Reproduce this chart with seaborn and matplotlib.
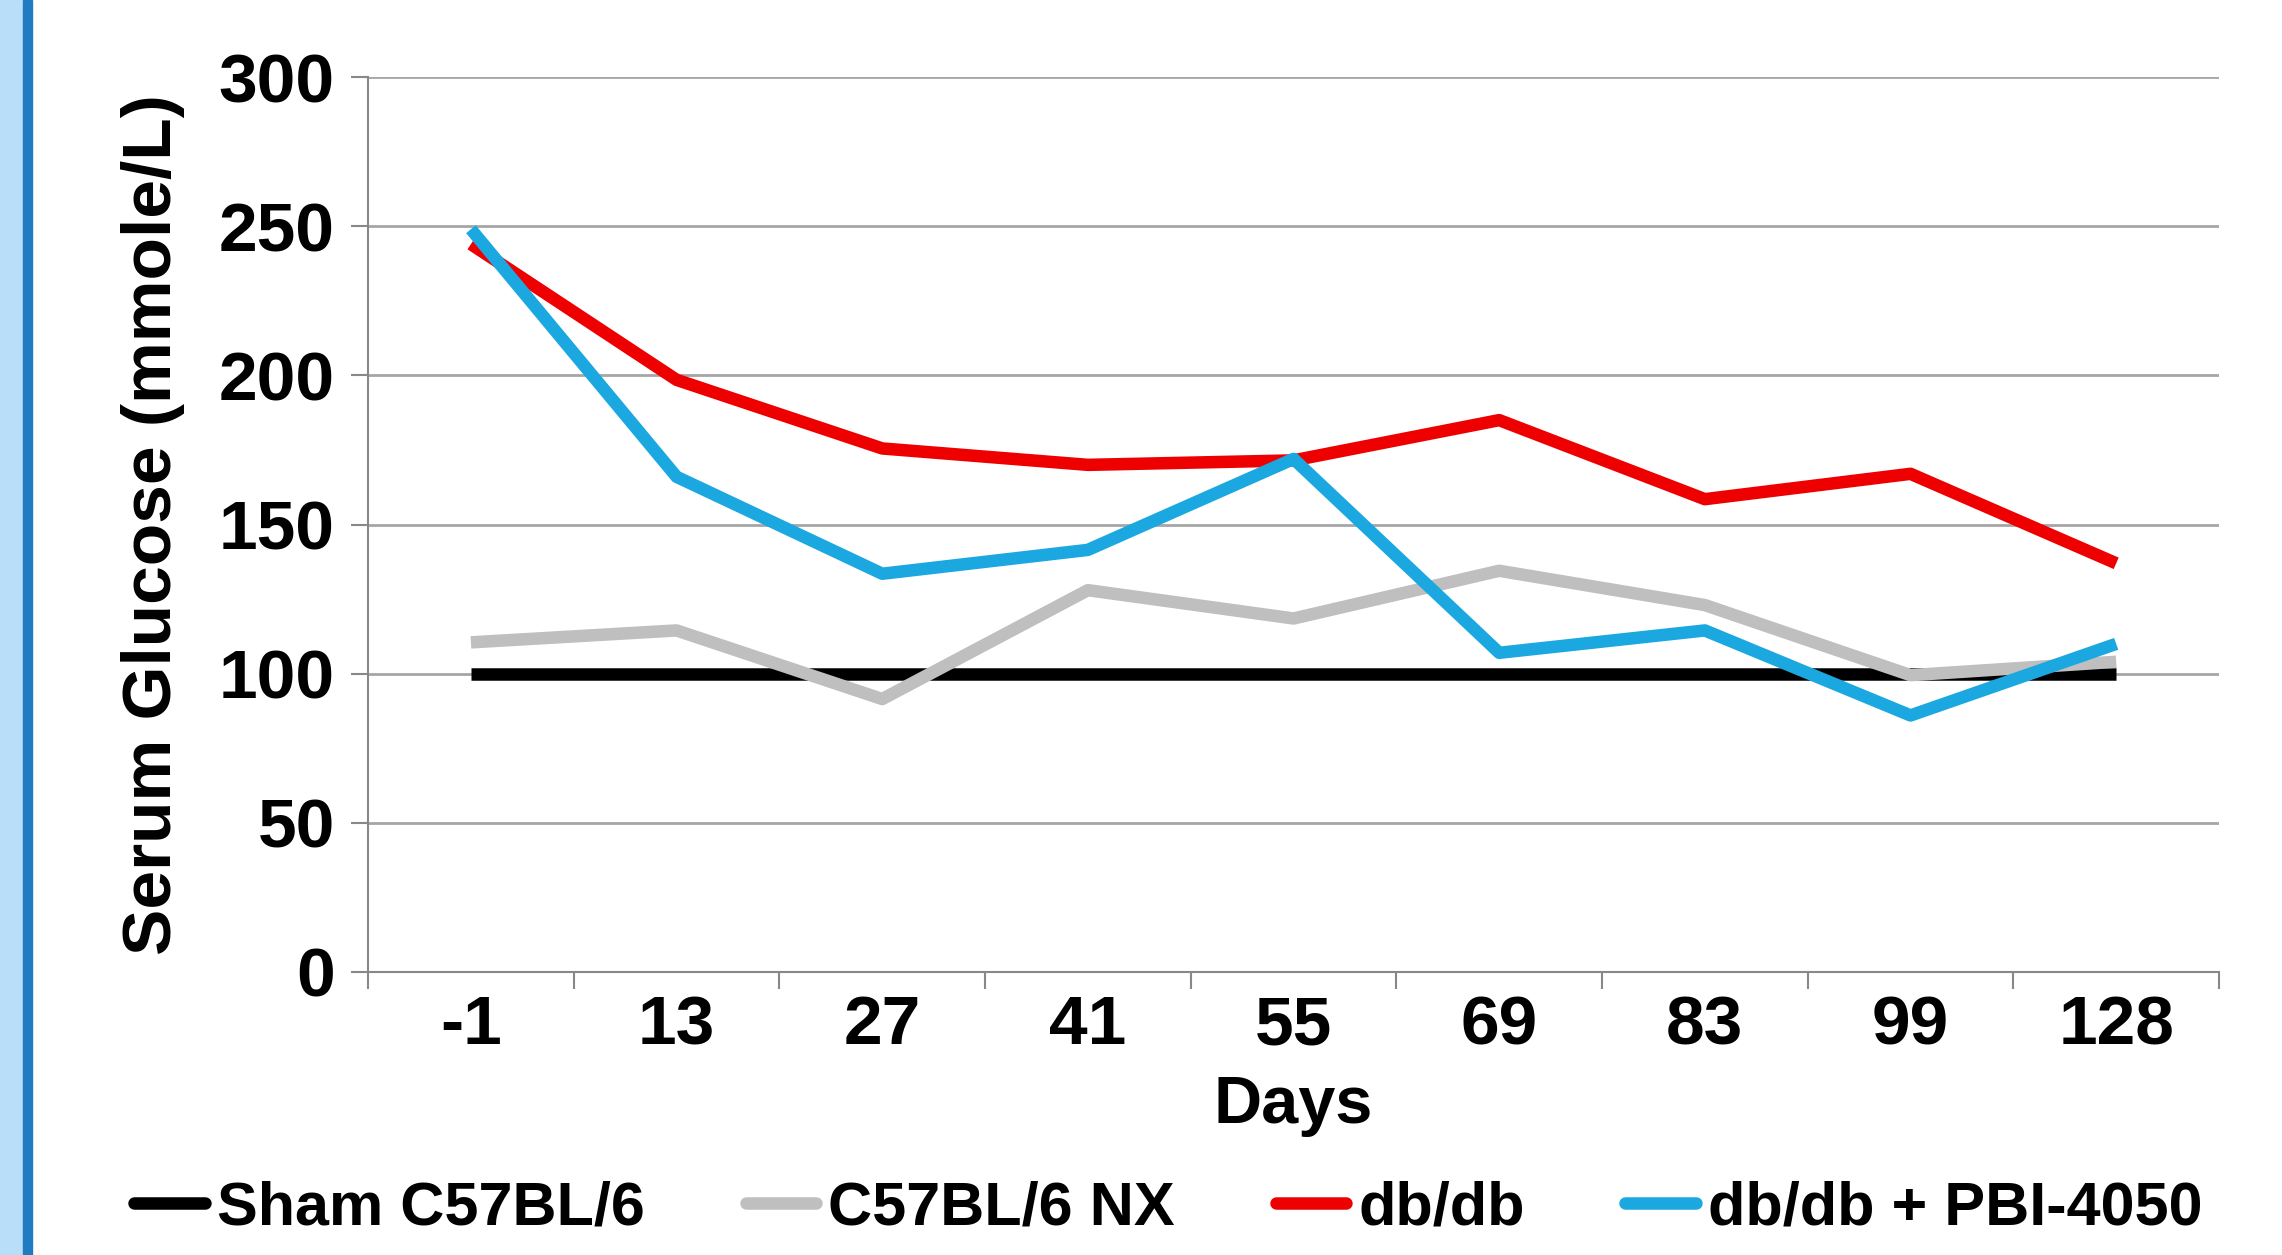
import matplotlib
matplotlib.use('Agg')
import matplotlib.pyplot as plt
from matplotlib.patches import Rectangle
from matplotlib.ticker import FixedLocator
import pandas as pd
import seaborn as sns

days = ['-1', '13', '27', '41', '55', '69', '83', '99', '128']
sham = [100, 100, 100, 100, 100, 100, 100, 100, 100]
nx = [110.5, 114.5, 91.5, 128, 118.5, 134.5, 123, 99.5, 104]
dbdb = [244, 198.5, 175.5, 170, 171.5, 185, 158.5, 167, 137]
dbdb_pbi = [249, 166, 133.5, 141.5, 172, 107, 114.5, 86, 110]

groups = ['Sham C57BL/6', 'C57BL/6 NX', 'db/db', 'db/db + PBI-4050']
colors = ['#000000', '#bfbfbf', '#ee0000', '#1ba8e0']

df = pd.DataFrame({'Days': days * 4,
                   'value': sham + nx + dbdb + dbdb_pbi,
                   'group': [g for g in groups for _ in days]})

sns.set_style('white')
plt.rcParams['font.family'] = ['Liberation Sans', 'DejaVu Sans']
plt.rcParams['font.weight'] = 'bold'
plt.rcParams['text.color'] = 'black'
plt.rcParams['axes.labelcolor'] = 'black'

fig = plt.figure(figsize=(22.82, 12.55), dpi=100)
ax = fig.add_axes([0.1613, 0.2255, 0.8111, 0.7131])

sns.lineplot(data=df, x='Days', y='value', hue='group', hue_order=groups,
             palette=colors, ax=ax, sort=False, legend=False)
# thick Excel-style lines
for ln in ax.lines:
    ln.set_linewidth(9)
    ln.set_solid_capstyle('butt')

ax.set_xlim(-0.5, len(days) - 0.5)
ax.set_ylim(0, 300)
ax.set_yticks(range(0, 301, 50))
ax.yaxis.grid(True, color='#a6a6a6', linewidth=2)
ax.set_axisbelow(True)
ax.xaxis.set_minor_locator(FixedLocator([i - 0.5 for i in range(len(days) + 1)]))
ax.tick_params(axis='x', which='major', length=0, labelsize=50, pad=16,
               labelcolor='black')
ax.tick_params(axis='x', which='minor', length=12, width=1.5, color='#888888',
               direction='out', bottom=True)
ax.tick_params(axis='y', length=12, width=1.5, color='#888888', labelsize=50,
               left=True, pad=12, labelcolor='black')
for s in ['top', 'right']:
    ax.spines[s].set_visible(False)
for s in ['left', 'bottom']:
    ax.spines[s].set_color('#888888')
    ax.spines[s].set_linewidth(1.5)

ax.set_xlabel('Days', fontsize=48, fontweight='bold', labelpad=12)
ax.set_ylabel('Serum Glucose (mmole/L)', fontsize=50, fontweight='bold', labelpad=24)

handles = [plt.Line2D([], [], color=c, linewidth=9) for c in colors]
fig.legend(handles, groups, loc='center', bbox_to_anchor=(0.512, 0.037), ncol=4,
           frameon=False, handlelength=1.15, handletextpad=0.2,
           columnspacing=1.65, prop={'weight': 'bold', 'size': 44})

fig.add_artist(Rectangle((0, 0), 23 / 2282, 1, transform=fig.transFigure,
                         color='#b9defa', zorder=0))
fig.add_artist(Rectangle((23 / 2282, 0), 9 / 2282, 1, transform=fig.transFigure,
                         color='#1f7cc1', zorder=0))

fig.savefig('out.png', dpi=100)
